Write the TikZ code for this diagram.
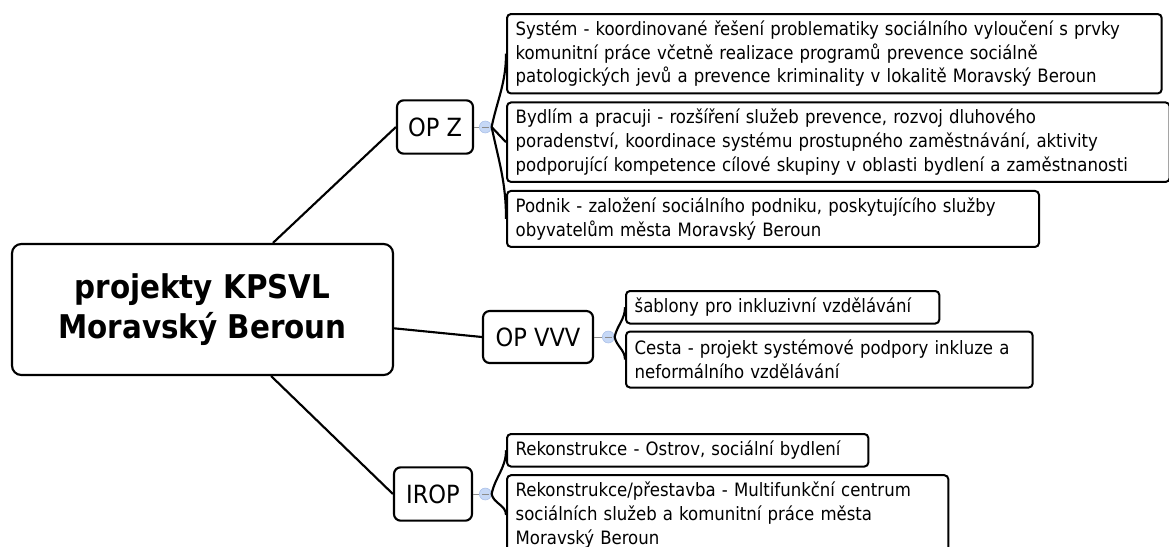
\documentclass[tikz,border=0pt]{standalone}
\usepackage{fontspec}
\setmainfont{DejaVu Sans Condensed}
\usepackage{xcolor}
\usetikzlibrary{positioning}
\definecolor{knobfill}{RGB}{198,216,246}
\definecolor{knobline}{RGB}{168,190,230}

\begin{document}
\begin{tikzpicture}[
  x=0.75pt, y=0.75pt,
  node distance = 5.25pt,
  rootbox/.style={draw=black, line width=1.6pt, rounded corners=7pt, align=center,
                  minimum width=285.75pt, minimum height=98.25pt,
                  font=\fontsize{24.5}{30.5}\selectfont\bfseries},
  branch/.style={draw=black, line width=1.6pt, rounded corners=5pt, inner sep=0pt,
                 minimum height=40pt, font=\fontsize{18.8}{22}\selectfont},
  leaf/.style={draw=black, line width=1.5pt, rounded corners=3pt, align=left,
               inner xsep=6.5pt, inner ysep=0pt, text width=#1,
               font=\fontsize{13.8}{17.8}\selectfont},
  oneline/.style={minimum height=24.4pt},
  twolines/.style={minimum height=42pt},
  threelines/.style={minimum height=59.6pt},
  knob/.style={circle, fill=knobfill, draw=knobline, line width=0.4pt,
               minimum size=9pt, inner sep=0pt,
               path picture={\draw[black!45, line width=0.7pt]
                 ([xshift=-2.4pt]path picture bounding box.center) --
                 ([xshift=2.4pt]path picture bounding box.center);}},
  link/.style={line width=1.6pt, draw=black},
  stem/.style={line width=0.7pt, draw=black!45},
  fork/.style={line width=1.6pt, draw=black},
  forkup/.style={out=78, in=-90},
  forkdown/.style={out=-78, in=90}
]
\useasboundingbox (0,0) rectangle (1169,-546);

% ===== central topic =====
\node[rootbox] (root) at (202.5,-309.5) {projekty KPSVL\\Moravský Beroun};

% ===== main branches =====
\node[branch, minimum width=57pt] (opz) at (435,-127) {OP Z};
\node[branch, minimum width=82.5pt, minimum height=39pt] (opvvv) at (538,-337) {OP VVV};
\node[branch, minimum width=58.5pt] (irop) at (433,-494) {IROP};

\draw[link] (root) -- (opz.west);
\draw[link] (root) -- (opvvv.west);
\draw[link] (root) -- (irop.west);

% collapse knobs
\node[knob, right=3.75pt of opz] (opzk) {};
\node[knob, right=6pt of opvvv] (opvvvk) {};
\node[knob, right=4.5pt of irop] (iropk) {};
\draw[stem] (opz) -- (opzk);
\draw[stem] (opvvv) -- (opvvvk);
\draw[stem] (irop) -- (iropk);

% ===== OP Z =====
\node[leaf=478pt, threelines, anchor=north west] (sys) at (506,-13)
  {Systém - koordinované řešení problematiky sociálního vyloučení s prvky\\komunitní práce včetně realizace programů prevence sociálně\\patologických jevů a prevence kriminality v lokalitě Moravský Beroun};
\node[leaf=484pt, threelines, below=of sys.south west, anchor=north west] (byd)
  {Bydlím a pracuji - rozšíření služeb prevence, rozvoj dluhového\\poradenství, koordinace systému prostupného zaměstnávání, aktivity\\podporující kompetence cílové skupiny v oblasti bydlení a zaměstnanosti};
\node[leaf=386pt, twolines, below=of byd.south west, anchor=north west] (pod)
  {Podnik - založení sociálního podniku, poskytujícího služby\\obyvatelům města Moravský Beroun};

\draw[fork] (opzk.east) to[forkup] (sys.west);
\draw[fork] (opzk.east) -- (byd.west);
\draw[fork] (opzk.east) to[forkdown] (pod.west);

% ===== OP VVV =====
\node[leaf=222pt, oneline, anchor=north west] (sab) at (625,-290)
  {šablony pro inkluzivní vzdělávání};
\node[leaf=292pt, twolines, below=4.5pt of sab.south west, anchor=north west] (ces)
  {Cesta - projekt systémové podpory inkluze a\\neformálního vzdělávání};

\draw[fork] (opvvvk.east) to[forkup] (sab.west);
\draw[fork] (opvvvk.east) to[forkdown] (ces.west);

% ===== IROP =====
\node[leaf=258pt, oneline, anchor=north west] (rek) at (506,-433)
  {Rekonstrukce - Ostrov, sociální bydlení};
\node[leaf=318pt, threelines, below=5pt of rek.south west, anchor=north west] (mfc)
  {Rekonstrukce/přestavba - Multifunkční centrum\\sociálních služeb a komunitní práce města\\Moravský Beroun};

\draw[fork] (iropk.east) to[forkup] (rek.west);
\draw[fork] (iropk.east) to[forkdown] (mfc.west);

\end{tikzpicture}
\end{document}
